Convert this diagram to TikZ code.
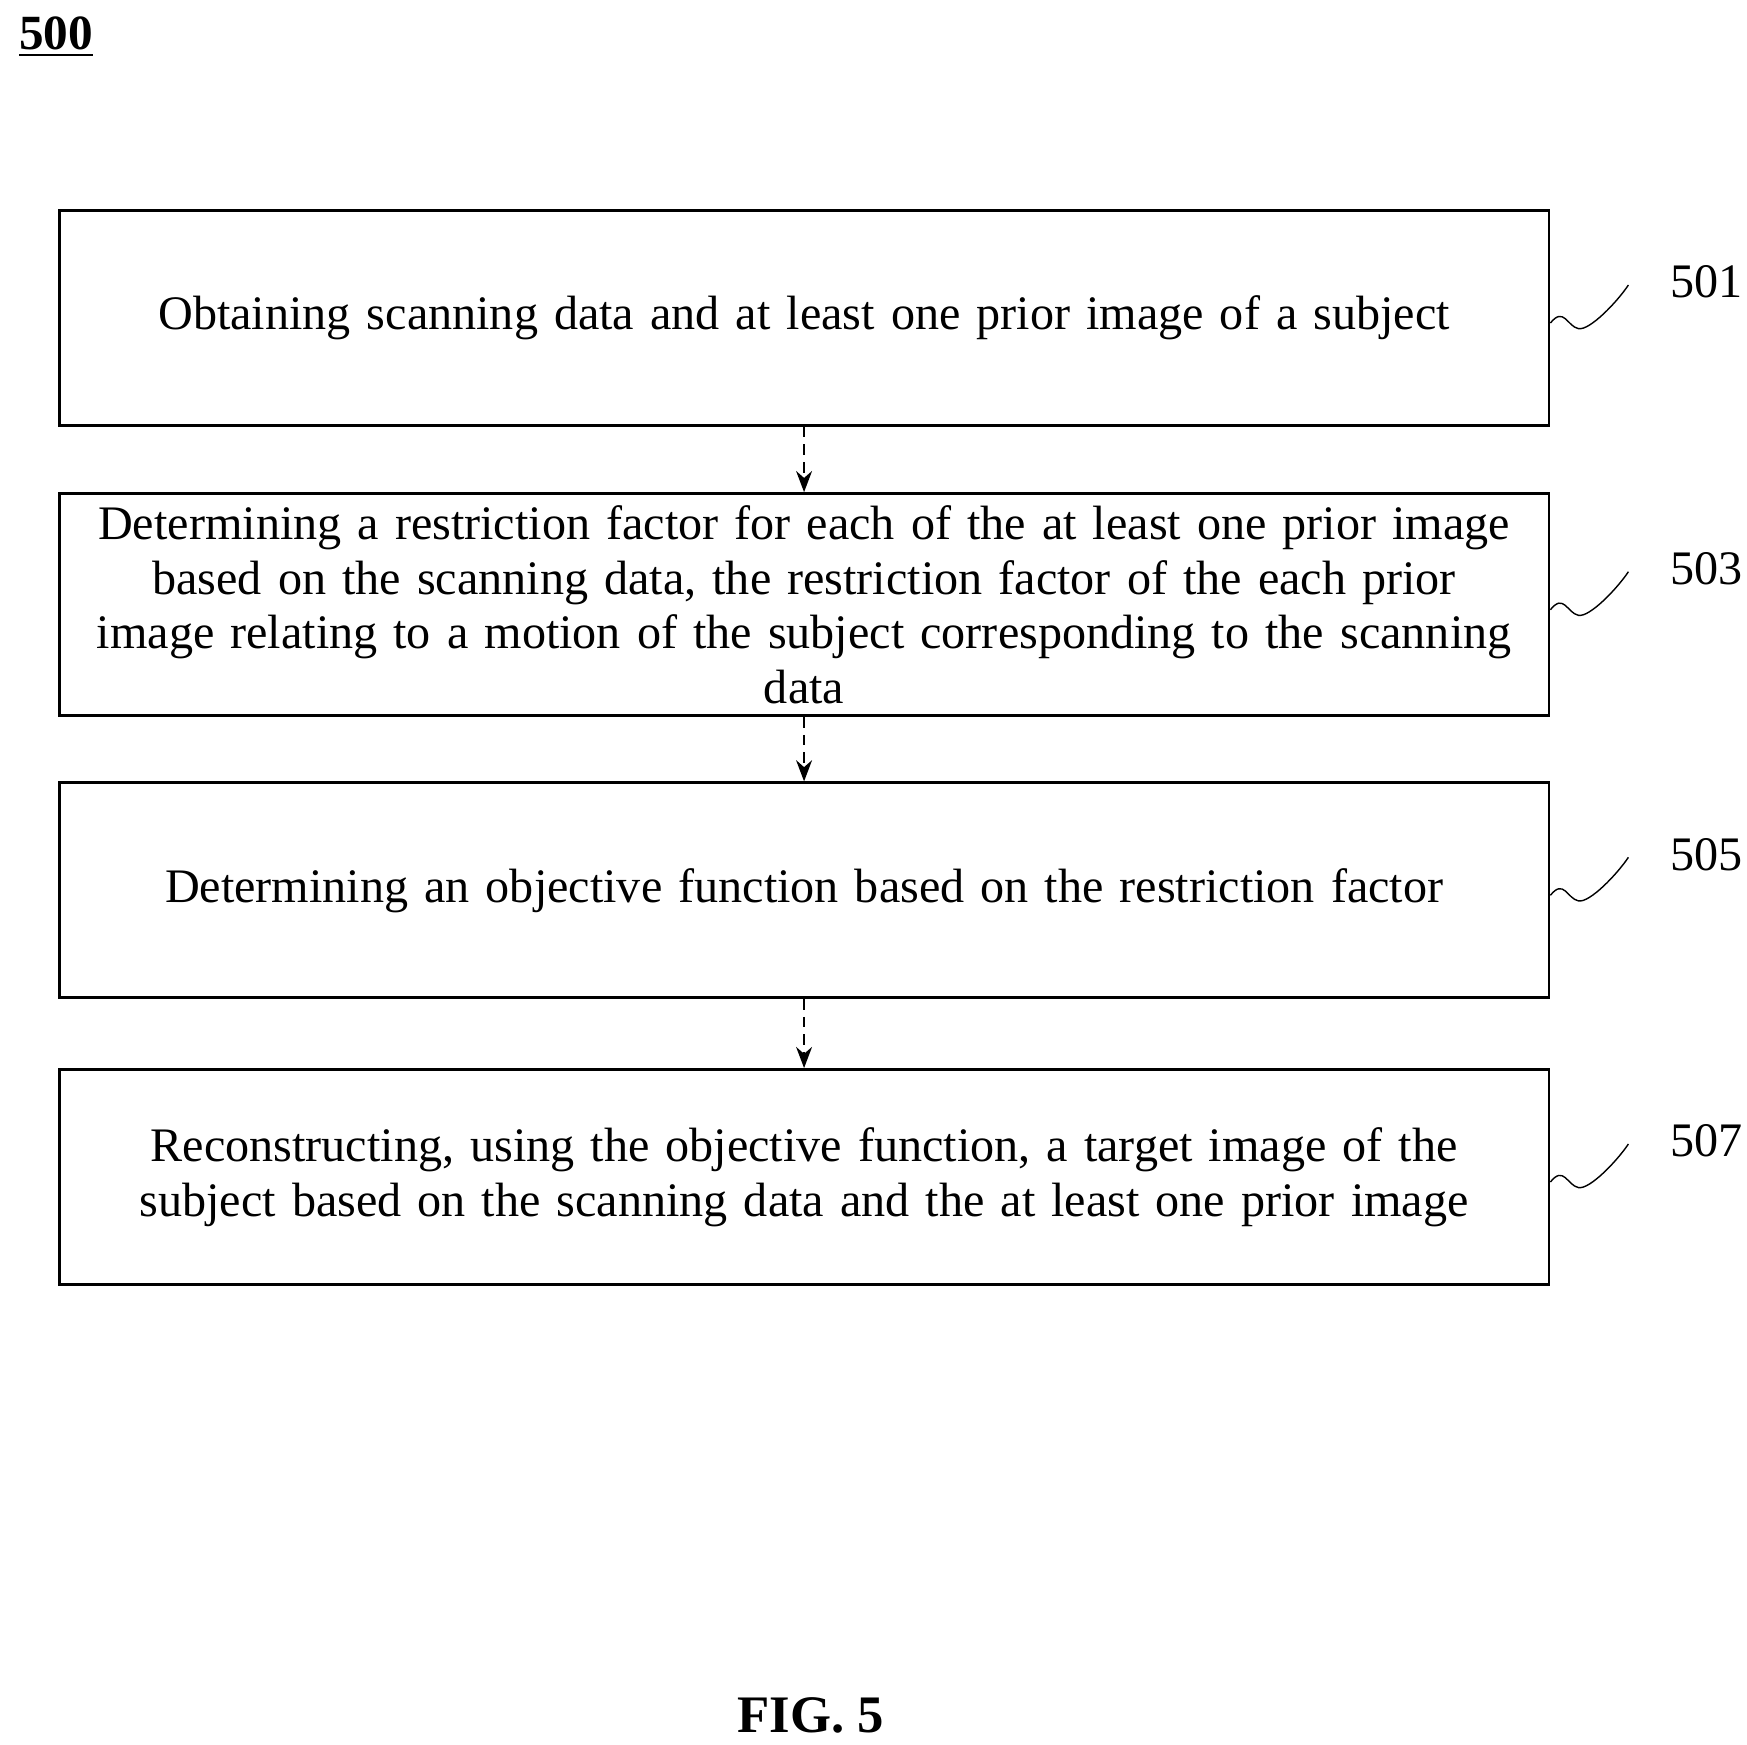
\documentclass[tikz,border=0pt]{standalone}
\usepackage{fontspec}
\setmainfont{Liberation Serif}
\usetikzlibrary{positioning,arrows.meta}
\tikzset{
  stepbox/.style={draw,thick,minimum width=14.9cm,minimum height=2.15cm,align=center,text width=14.6cm,font=\fontsize{13.7}{15.6}\selectfont},
  flow/.style={densely dashed,thick,-{Stealth[length=6pt]}},
  tag/.style={font=\fontsize{13.7}{15}\selectfont}
}
\begin{document}
\begin{tikzpicture}[x=0.0112cm,y=-0.0112cm]
\useasboundingbox (0,0) rectangle (1560,1558);
\node[font=\bfseries\fontsize{14}{16}\selectfont] (fig) at (50,33) {\underline{500}};
\node[stepbox] (s1) at (718,284) {Obtaining scanning data and at least one prior image of a subject};
\node[stepbox] (s2) at (718,540) {Determining a restriction factor for each of the at least one prior image\\ based on the scanning data, the restriction factor of the each prior\\ image relating to a motion of the subject corresponding to the scanning\\ data};
\node[stepbox] (s3) at (718,795) {Determining an objective function based on the restriction factor};
\node[stepbox] (s4) at (718,1051) {Reconstructing, using the objective function, a target image of the\\ subject based on the scanning data and the at least one prior image};
\draw[flow] (s1) -- (s2);
\draw[flow] (s2) -- (s3);
\draw[flow] (s3) -- (s4);
% step numbers
\foreach \s/\n in {s1/501,s2/503,s3/505,s4/507}{
  \coordinate (w\n) at ([xshift=0.78cm,yshift=0.33cm]\s.east);
  \draw ([yshift=-0.05cm]\s.east) .. controls +(12,-15) and +(-10,-2) .. ++(25,5) .. controls +(10,2) and +(-10,15) .. (w\n);
  \node[tag,anchor=west] (n\n) at ([xshift=0.3cm,yshift=0.03cm]w\n) {\n};
}
\node[font=\bfseries\fontsize{15}{17}\selectfont] (cap) at (724,1532) {FIG. 5};
\end{tikzpicture}
\end{document}
